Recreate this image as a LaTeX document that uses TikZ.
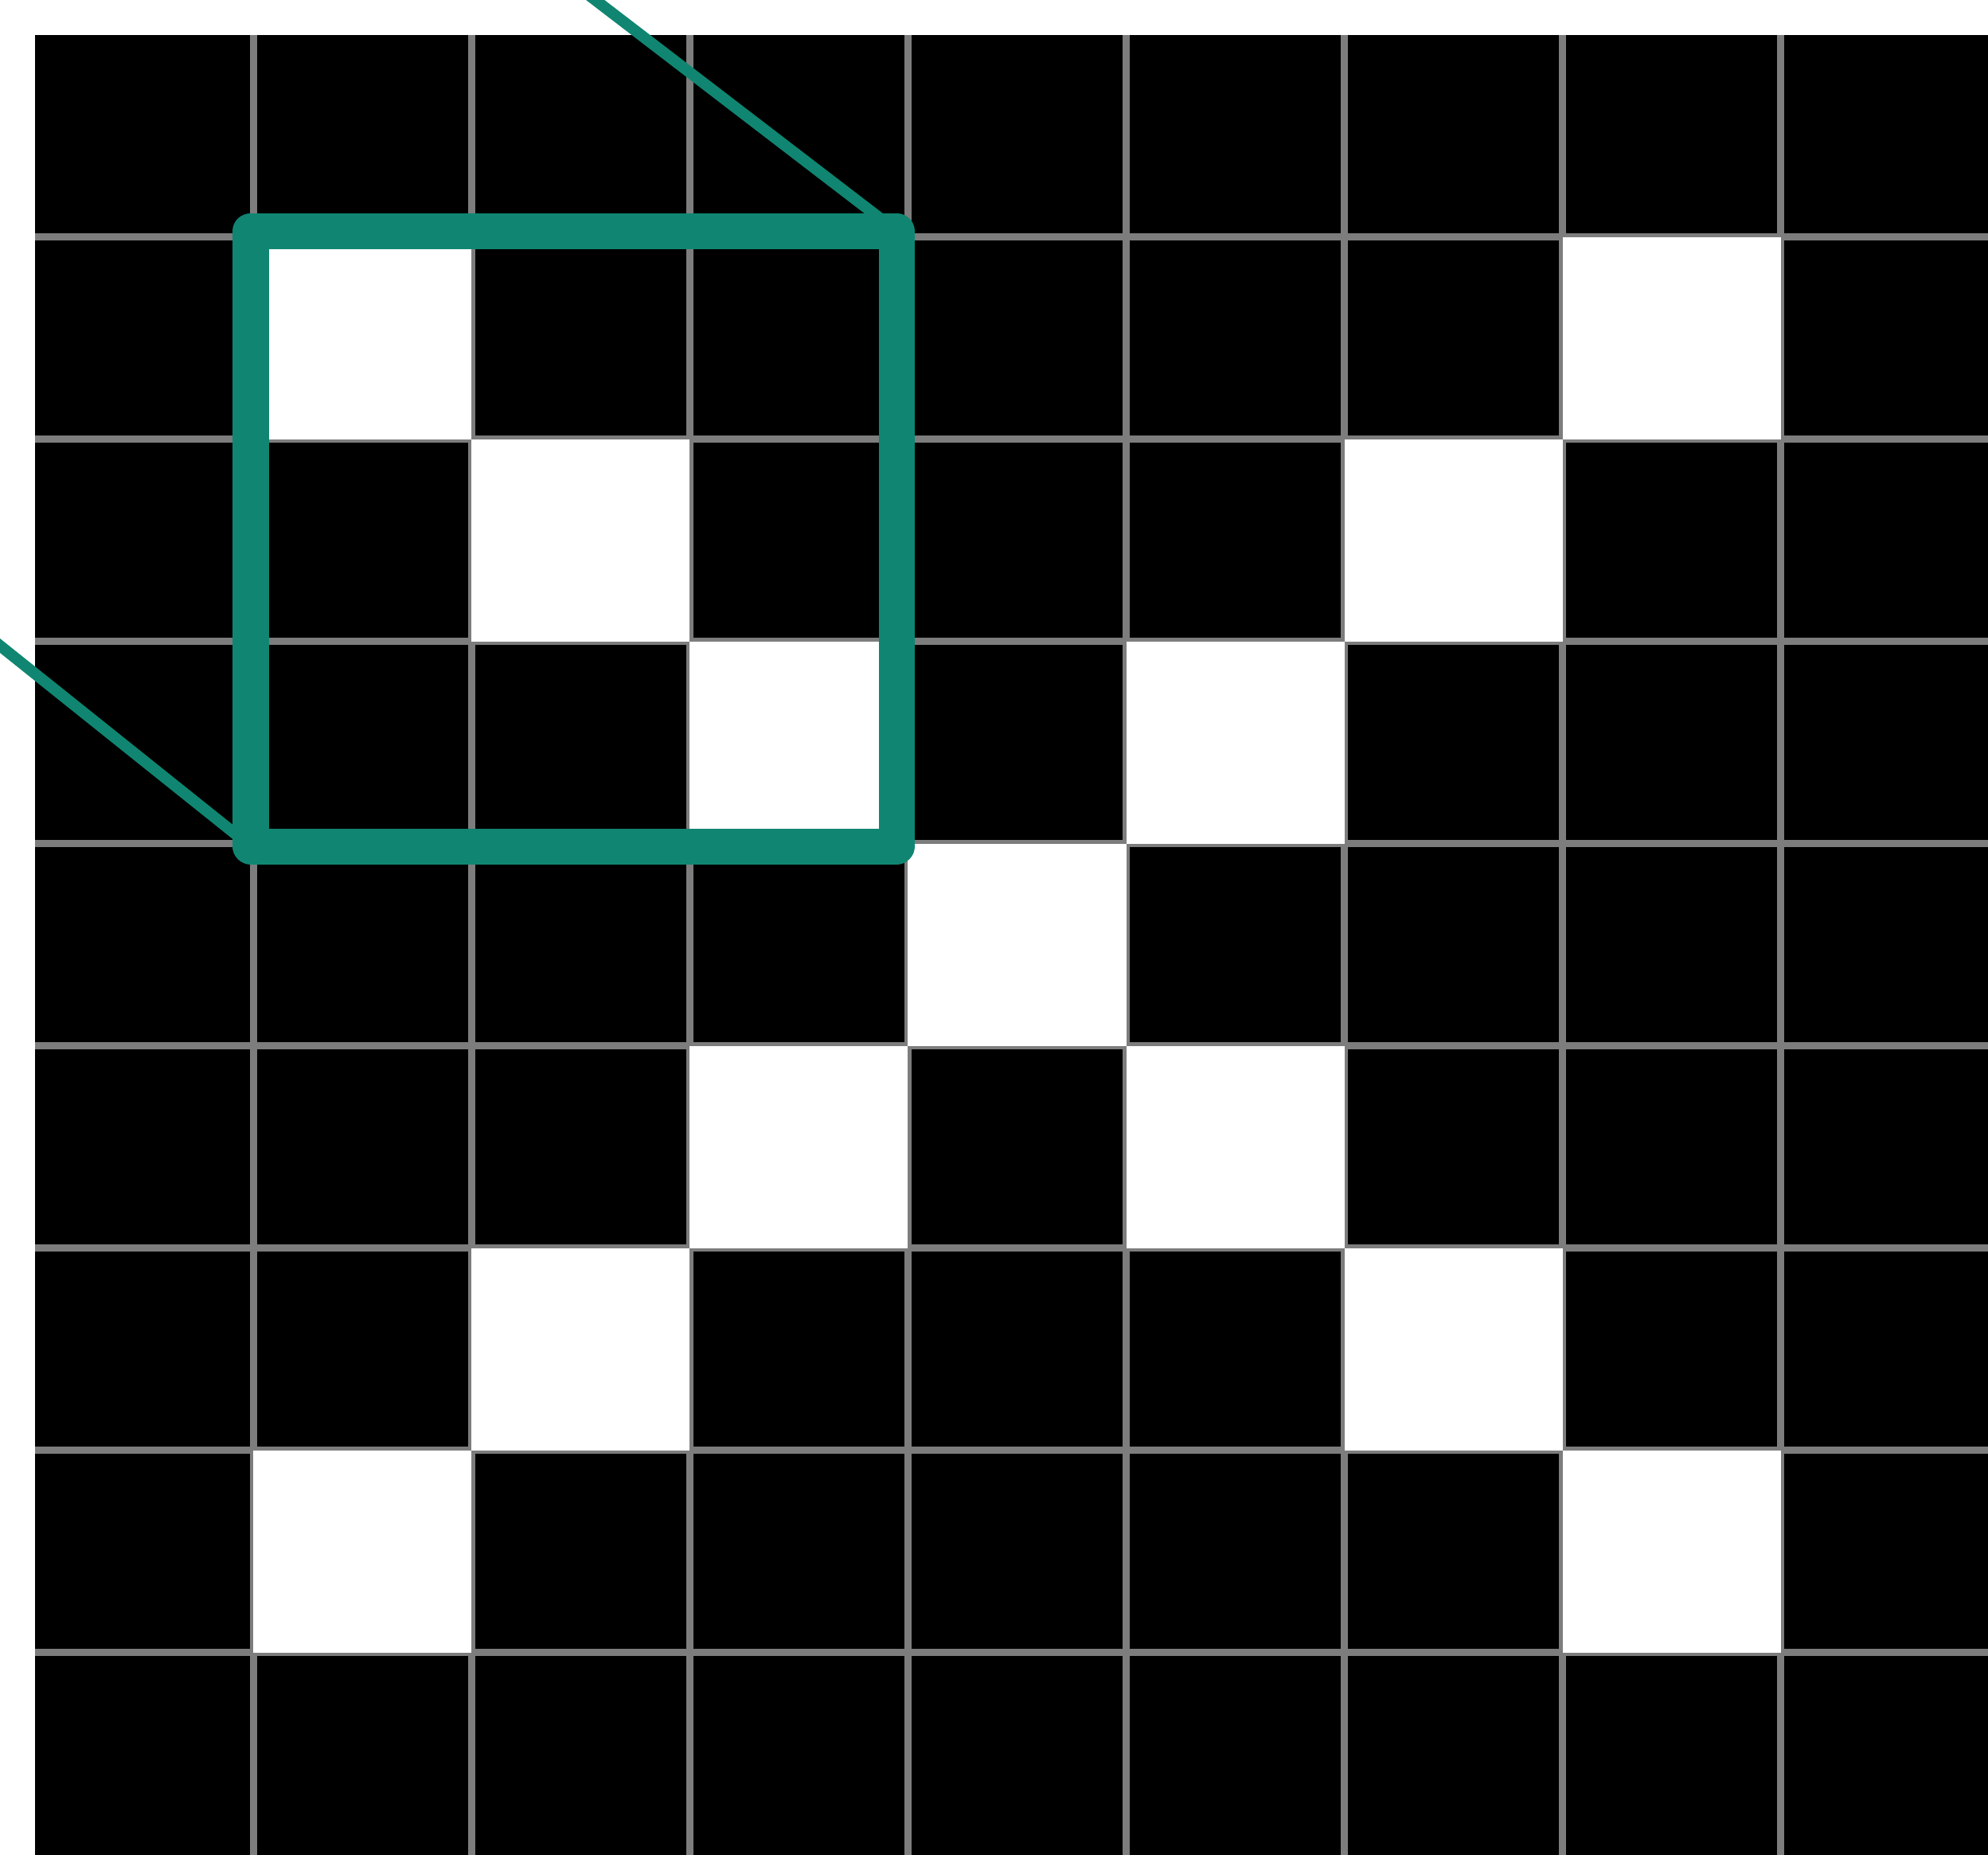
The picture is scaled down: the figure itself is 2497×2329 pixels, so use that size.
\documentclass[tikz,border=0pt]{standalone}
\definecolor{tealc}{RGB}{16,134,114}
\definecolor{gridgray}{RGB}{125,125,125}
\begin{document}
\begin{tikzpicture}[x=0.01cm,y=-0.01cm,
  gridline/.style={draw=gridgray,line width=2.6pt},
  whitecell/.style={fill=white},
  tealbox/.style={draw=tealc,line width=12.8pt,line join=round},
  tealray/.style={draw=tealc,line width=4pt}]
\useasboundingbox (0,0) rectangle (2497,2329);
\clip (0,0) rectangle (2497,2329);
\fill[white] (0,0) rectangle (2497,2329);
\fill[black] (44,43.5) rectangle (2540,2360);
\foreach \k in {1,...,8}{
  \draw[gridline] ({44+274.1*\k},43.5) -- ({44+274.1*\k},2360);
  \draw[gridline] (44,{43.5+254*\k}) -- (2540,{43.5+254*\k});
}
\foreach \r/\c in {1/1,1/7,2/2,2/6,3/3,3/5,4/4,5/3,5/5,6/2,6/6,7/1,7/7}{
  \fill[whitecell] ({44+274.1*\c},{43.5+254*\r}) rectangle +(274.1,254);
}
\coordinate (sqTL) at (315,290);
\coordinate (sqTR) at (1126,290);
\coordinate (sqBR) at (1126,1063);
\coordinate (sqBL) at (315,1063);
\coordinate (farTop) at (672,-58);
\coordinate (farLeft) at (-40,779);
\draw[tealray] (sqTR) -- (farTop);
\draw[tealray] (sqBL) -- (farLeft);
\draw[tealbox] (sqTL) -- (sqTR) -- (sqBR) -- (sqBL) -- cycle;
\end{tikzpicture}
\end{document}
